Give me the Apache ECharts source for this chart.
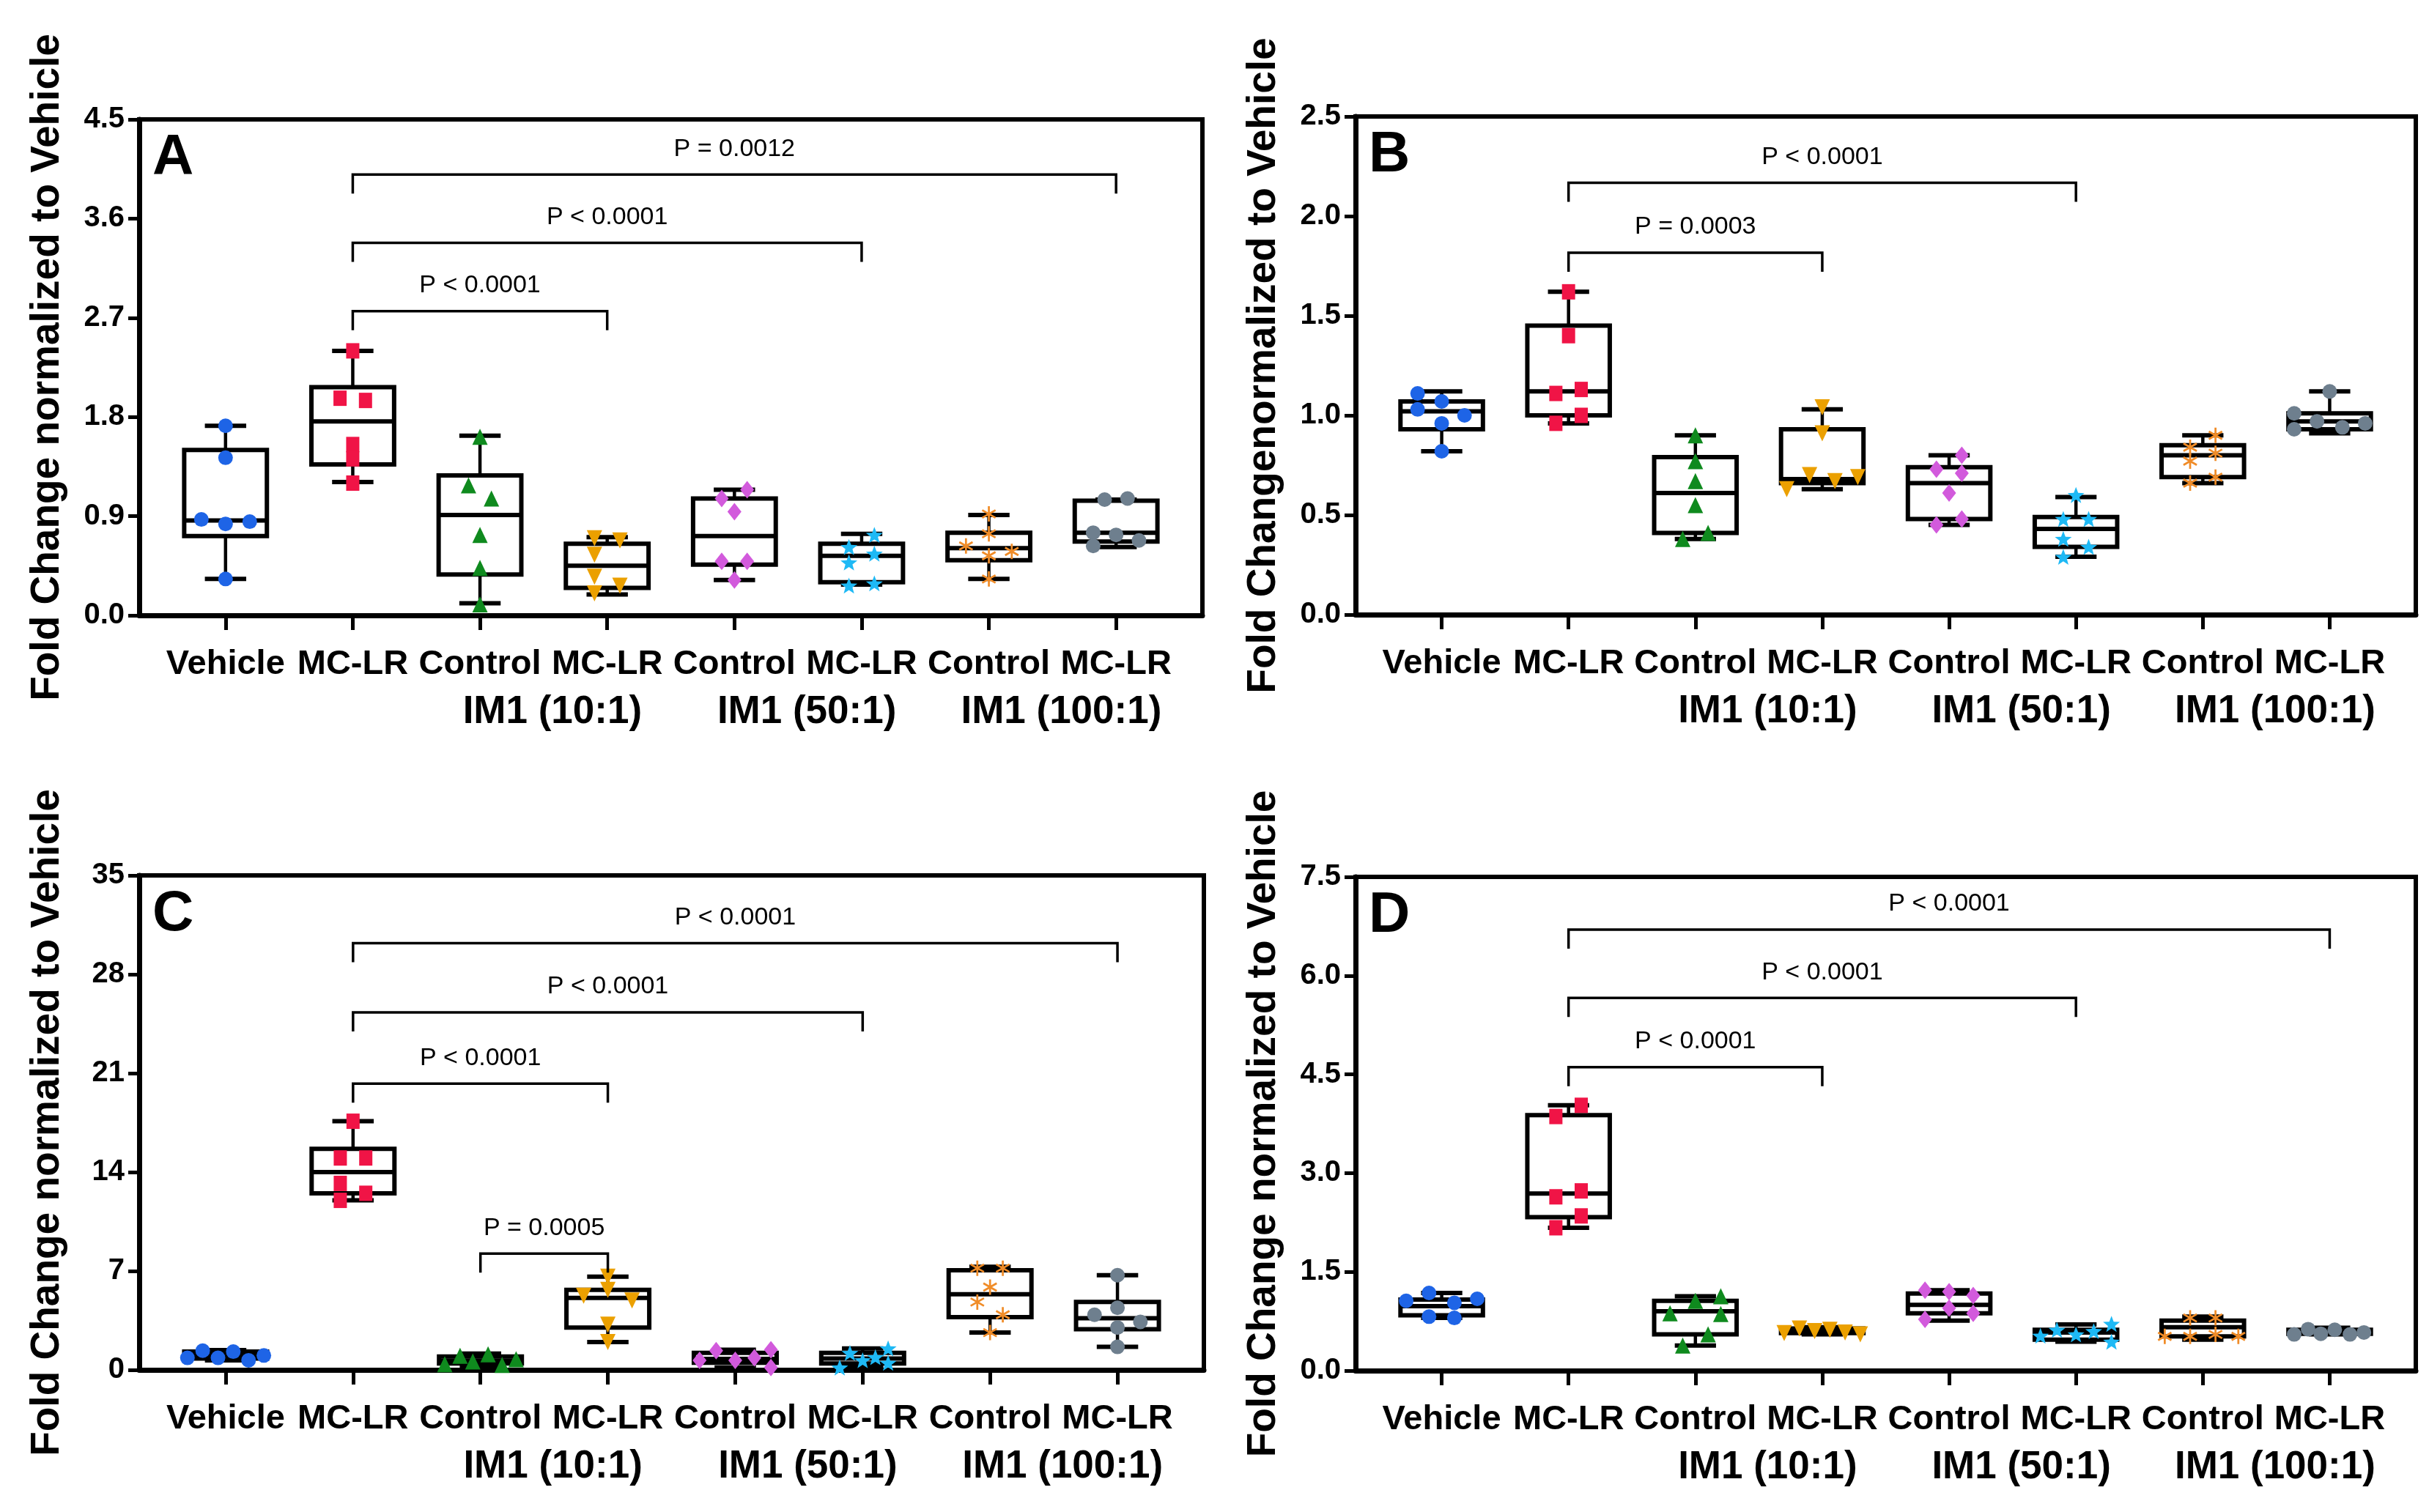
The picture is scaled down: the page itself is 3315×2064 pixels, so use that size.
<!DOCTYPE html>
<html>
<head>
<meta charset="utf-8">
<title>Fold change box plots</title>
<script src="https://cdn.jsdelivr.net/npm/echarts@6/dist/echarts.min.js"></script>
<style>
  html, body { margin: 0; padding: 0; background: #fff; }
  #main { width: 3315px; height: 2064px; }
</style>
</head>
<body>
<div id="main"></div>
<script>
var categories = ['Vehicle', 'MC-LR', 'Control', 'MC-LR', 'Control', 'MC-LR', 'Control', 'MC-LR'];
var groupLabels = ['', 'IM1 (10:1)', 'IM1 (50:1)', 'IM1 (100:1)'];

// box stats per group: [min, Q1, median, Q3, max]
var boxA = [[0.33, 0.72, 0.86, 1.50, 1.72], [1.21, 1.37, 1.76, 2.07, 2.40], [0.11, 0.37, 0.91, 1.27, 1.63], [0.19, 0.25, 0.45, 0.65, 0.71],
            [0.32, 0.46, 0.72, 1.06, 1.14], [0.28, 0.30, 0.54, 0.65, 0.74], [0.33, 0.50, 0.61, 0.75, 0.91], [0.62, 0.67, 0.75, 1.04, 1.05]];
var boxB = [[0.82, 0.93, 1.02, 1.07, 1.12], [0.96, 1.00, 1.12, 1.45, 1.62], [0.38, 0.41, 0.61, 0.79, 0.90], [0.63, 0.66, 0.68, 0.93, 1.03],
            [0.45, 0.48, 0.66, 0.74, 0.80], [0.29, 0.34, 0.43, 0.49, 0.59], [0.66, 0.69, 0.80, 0.85, 0.90], [0.91, 0.93, 0.97, 1.01, 1.12]];
var boxC = [[0.68, 0.80, 1.00, 1.30, 1.40], [12.0, 12.5, 14.0, 15.65, 17.6], [0.30, 0.45, 0.65, 0.95, 1.15], [1.97, 3.0, 5.1, 5.66, 6.6],
            [0.17, 0.50, 0.78, 1.20, 1.42], [0.17, 0.45, 0.80, 1.20, 1.52], [2.64, 3.73, 5.35, 7.05, 7.3], [1.63, 2.88, 3.66, 4.81, 6.7]];
var boxD = [[0.80, 0.84, 0.98, 1.08, 1.18], [2.17, 2.33, 2.69, 3.88, 4.03], [0.38, 0.55, 0.90, 1.06, 1.13], [0.55, 0.57, 0.60, 0.64, 0.66],
            [0.76, 0.87, 1.00, 1.17, 1.22], [0.44, 0.47, 0.58, 0.62, 0.70], [0.47, 0.52, 0.66, 0.76, 0.82], [0.55, 0.56, 0.60, 0.62, 0.65]];

// individual replicates (6 per group)
var ptsA = [[1.72, 1.43, 0.87, 0.83, 0.85, 0.33], [2.40, 1.97, 1.95, 1.55, 1.42, 1.20], [1.62, 1.18, 1.06, 0.73, 0.43, 0.10], [0.70, 0.68, 0.55, 0.35, 0.27, 0.20],
            [1.14, 1.06, 0.94, 0.49, 0.49, 0.32], [0.73, 0.62, 0.56, 0.48, 0.29, 0.27], [0.92, 0.74, 0.63, 0.58, 0.54, 0.33], [1.05, 1.06, 0.75, 0.73, 0.68, 0.63]];
var ptsB = [[1.11, 1.07, 1.03, 1.00, 0.96, 0.82], [1.62, 1.40, 1.11, 1.13, 1.00, 0.96], [0.90, 0.77, 0.67, 0.55, 0.41, 0.38], [1.04, 0.91, 0.70, 0.69, 0.67, 0.63],
            [0.80, 0.73, 0.71, 0.61, 0.48, 0.45], [0.60, 0.48, 0.48, 0.38, 0.34, 0.29], [0.90, 0.84, 0.81, 0.77, 0.69, 0.66], [1.12, 1.01, 0.97, 0.93, 0.94, 0.96]];
var ptsC = [[0.85, 1.36, 0.85, 1.29, 0.68, 1.02], [17.6, 15.0, 15.0, 13.2, 12.5, 12.0], [0.40, 1.00, 0.60, 1.10, 0.35, 0.75], [6.6, 5.66, 5.25, 4.91, 3.2, 1.97],
            [0.68, 1.36, 0.68, 0.85, 1.42, 0.17], [0.17, 0.68, 1.52, 0.50, 1.20, 0.90], [7.2, 7.2, 5.86, 4.8, 3.9, 2.64], [6.7, 4.4, 3.9, 3.4, 3.0, 1.63]];
var ptsD = [[1.06, 1.18, 1.03, 1.09, 0.82, 0.80], [4.03, 3.86, 2.64, 2.73, 2.35, 2.17], [1.13, 1.06, 0.87, 0.86, 0.55, 0.38], [0.57, 0.64, 0.60, 0.62, 0.58, 0.55],
            [1.22, 1.20, 1.14, 0.95, 0.87, 0.78], [0.53, 0.62, 0.55, 0.60, 0.71, 0.44], [0.80, 0.80, 0.52, 0.52, 0.55, 0.52], [0.55, 0.63, 0.56, 0.62, 0.55, 0.58]];

// horizontal spread of the replicates, in category units
var dxA = [[0, 0, -0.19, 0, 0.19, 0], [0, -0.1, 0.1, 0, 0, 0], [0, -0.09, 0.09, 0, 0, 0], [-0.1, 0.1, -0.1, -0.1, 0.1, -0.1],
           [0.1, -0.1, 0, -0.1, 0.1, 0], [0.1, -0.1, 0.1, -0.1, 0.1, -0.1], [0, 0, -0.18, 0.18, 0, 0], [-0.09, 0.09, -0.18, 0, 0.18, -0.18]];
var dxB = [[-0.19, 0, -0.19, 0.18, 0, 0], [0, 0, -0.1, 0.1, 0.1, -0.1], [0, 0, 0, 0, 0.1, -0.1], [0, 0, -0.1, 0.28, 0.1, -0.28],
           [0.1, -0.1, 0.1, 0, 0.1, -0.1], [0, -0.1, 0.1, -0.1, 0.1, -0.1], [0.1, -0.1, 0.1, -0.1, 0.1, -0.1], [0, -0.28, -0.1, -0.28, 0.1, 0.28]];
var dxC = [[-0.3, -0.18, -0.06, 0.06, 0.18, 0.3], [0, -0.1, 0.1, -0.1, 0.1, -0.1], [-0.28, -0.16, -0.06, 0.06, 0.17, 0.28], [0, 0, -0.19, 0.19, 0, 0],
           [-0.28, -0.15, 0, 0.15, 0.28, 0.28], [-0.18, 0, 0.2, 0.2, -0.1, 0.1], [-0.1, 0.1, 0, -0.1, 0.1, 0], [0, 0, -0.18, 0.18, 0, 0]];
var dxD = [[-0.28, -0.1, 0.1, 0.28, -0.1, 0.1], [0.1, -0.1, -0.1, 0.1, 0.1, -0.1], [0.2, 0, -0.2, 0.2, 0.1, -0.1], [-0.3, -0.18, -0.06, 0.06, 0.18, 0.3],
           [-0.19, 0, 0.19, 0, 0.19, -0.19], [-0.28, -0.15, 0, 0.14, 0.28, 0.28], [-0.1, 0.1, -0.3, -0.1, 0.1, 0.28], [-0.28, -0.17, -0.07, 0.04, 0.16, 0.27]];

// significance brackets: [from group, to group, height, label]
var brA = [[1, 3, 2.76, 'P < 0.0001'], [1, 5, 3.38, 'P < 0.0001'], [1, 7, 4.0, 'P = 0.0012']];
var brB = [[1, 3, 1.816, 'P = 0.0003'], [1, 5, 2.167, 'P < 0.0001']];
var brC = [[1, 3, 20.26, 'P < 0.0001'], [1, 5, 25.3, 'P < 0.0001'], [1, 7, 30.2, 'P < 0.0001'], [2, 3, 8.23, 'P = 0.0005']];
var brD = [[1, 3, 4.61, 'P < 0.0001'], [1, 5, 5.66, 'P < 0.0001'], [1, 7, 6.70, 'P < 0.0001']];

var yTitle = 'Fold Change normalized to Vehicle';
var yTitleB = 'Fold Changenormalized to Vehicle';

var panels = [
  {id: 'A', box: boxA, pts: ptsA, dx: dxA, br: brA, max: 4.5, step: 0.9, dec: 1, yName: yTitle},
  {id: 'B', box: boxB, pts: ptsB, dx: dxB, br: brB, max: 2.5, step: 0.5, dec: 1, yName: yTitleB},
  {id: 'C', box: boxC, pts: ptsC, dx: dxC, br: brC, max: 35, step: 7, dec: 0, yName: yTitle},
  {id: 'D', box: boxD, pts: ptsD, dx: dxD, br: brD, max: 7.5, step: 1.5, dec: 1, yName: yTitle}
];

var layout = [
  {left: 190, top: 163, width: 1451, height: 677},
  {left: 1850, top: 159, width: 1447, height: 680},
  {left: 190, top: 1195, width: 1453, height: 675},
  {left: 1850, top: 1197, width: 1447, height: 674}
];

var FONT = "'Liberation Sans', Arial, sans-serif";

function starPath() {
  var pts = [];
  for (var k = 0; k < 10; k++) {
    var r = k % 2 ? 0.42 : 1;
    var a = Math.PI / 5 * k - Math.PI / 2;
    pts.push((r * Math.cos(a)).toFixed(3) + ',' + (r * Math.sin(a)).toFixed(3));
  }
  return 'path://M' + pts.join('L') + 'Z';
}
function asteriskPath() {
  var s = '';
  [90, 30, 150].forEach(function (deg) {
    var a = deg * Math.PI / 180, c = Math.cos(a), sn = Math.sin(a), w = 0.13;
    var p = [[-1, -w], [1, -w], [1, w], [-1, w]].map(function (q) {
      return (q[0] * c - q[1] * sn).toFixed(3) + ',' + (q[0] * sn + q[1] * c).toFixed(3);
    });
    s += 'M' + p.join('L') + 'Z';
  });
  return 'path://' + s;
}

var markers = [
  {symbol: 'circle', size: 20, color: '#1E64E6'},
  {symbol: 'rect', size: [18, 21], color: '#F01446'},
  {symbol: 'triangle', size: [21, 22], color: '#0F8A1E'},
  {symbol: 'triangle', size: [21, 22], rotate: 180, color: '#EBA000'},
  {symbol: 'diamond', size: [19, 24], color: '#D25ADC'},
  {symbol: starPath(), size: 23, color: '#1EB9F5'},
  {symbol: asteriskPath(), size: 21, color: '#F08C28'},
  {symbol: 'circle', size: 20, color: '#6E7F8E'}
];

function renderBox(params, api) {
  var x = api.value(0);
  var lo = api.coord([x, api.value(1)]);
  var q1 = api.coord([x, api.value(2)]);
  var md = api.coord([x, api.value(3)]);
  var q3 = api.coord([x, api.value(4)]);
  var hi = api.coord([x, api.value(5)]);
  var bw = api.size([0.65, 0])[0];
  var cw = bw * 0.5;
  var cx = lo[0];
  var thick = {stroke: '#000', lineWidth: 6};
  var thin = {stroke: '#000', lineWidth: 4.5};
  return {
    type: 'group',
    children: [
      {type: 'line', shape: {x1: cx, y1: hi[1], x2: cx, y2: q3[1]}, style: thin},
      {type: 'line', shape: {x1: cx, y1: q1[1], x2: cx, y2: lo[1]}, style: thin},
      {type: 'line', shape: {x1: cx - cw / 2, y1: hi[1], x2: cx + cw / 2, y2: hi[1]}, style: thick},
      {type: 'line', shape: {x1: cx - cw / 2, y1: lo[1], x2: cx + cw / 2, y2: lo[1]}, style: thick},
      {type: 'rect', shape: {x: cx - bw / 2, y: q3[1], width: bw, height: q1[1] - q3[1]},
        style: {fill: 'rgba(255,255,255,0)', stroke: '#000', lineWidth: 6}},
      {type: 'line', shape: {x1: cx - bw / 2, y1: md[1], x2: cx + bw / 2, y2: md[1]}, style: thick}
    ]
  };
}

function bracketRenderer(list) {
  return function (params, api) {
    var a = api.coord([api.value(0), api.value(2)]);
    var b = api.coord([api.value(1), api.value(2)]);
    var leg = 26;
    return {
      type: 'group',
      children: [
        {type: 'polyline', shape: {points: [[a[0], a[1] + leg], a, b, [b[0], b[1] + leg]]},
          style: {stroke: '#000', lineWidth: 3.5, fill: null}},
        {type: 'text', x: (a[0] + b[0]) / 2, y: a[1] - 18,
          style: {text: list[params.dataIndex][3], fontSize: 34, fontFamily: FONT, fill: '#000',
            align: 'center', verticalAlign: 'bottom'}}
      ]
    };
  };
}

var option = {
  backgroundColor: '#fff',
  animation: false,
  title: [], grid: [], xAxis: [], yAxis: [], series: []
};

panels.forEach(function (p, pi) {
  var L = layout[pi];
  var gFrame = option.grid.length;
  option.grid.push({left: L.left, top: L.top, width: L.width, height: L.height,
    show: true, borderColor: '#000', borderWidth: 6, backgroundColor: 'rgba(0,0,0,0)'});
  option.grid.push({left: L.left + 31, top: L.top, width: L.width - 62, height: L.height});
  var gInner = gFrame + 1;

  option.title.push({text: p.id, left: L.left + 18, top: L.top + 14, padding: 0,
    textStyle: {fontSize: 78, fontWeight: 'bold', fontFamily: FONT, color: '#000'}});

  // frame axes
  option.xAxis.push({type: 'value', gridIndex: gFrame, position: 'bottom', min: 0, max: 1,
    axisLine: {show: true, onZero: false, lineStyle: {color: '#000', width: 7}},
    axisTick: {show: false}, axisLabel: {show: false}, splitLine: {show: false}});
  option.yAxis.push({type: 'value', gridIndex: gFrame, position: 'left', min: 0, max: p.max, interval: p.step,
    axisLine: {show: true, lineStyle: {color: '#000', width: 7}},
    axisTick: {show: true, length: 15, lineStyle: {color: '#000', width: 5}},
    axisLabel: {margin: 20, color: '#000', fontFamily: FONT, fontWeight: 'bold', fontSize: 40,
      formatter: function (v) { return v.toFixed(p.dec); }},
    splitLine: {show: false},
    name: p.yName, nameLocation: 'middle', nameGap: 98,
    nameTextStyle: {fontSize: 55, fontWeight: 'bold', fontFamily: FONT, color: '#000'}});

  // category labels and ticks
  option.xAxis.push({type: 'category', gridIndex: gInner, position: 'bottom', data: categories,
    axisLine: {show: false},
    axisTick: {show: true, alignWithLabel: true, length: 20, lineStyle: {color: '#000', width: 5}},
    axisLabel: {interval: 0, margin: 44, color: '#000', fontFamily: FONT, fontWeight: 'bold', fontSize: 47},
    splitLine: {show: false}});
  option.xAxis.push({type: 'category', gridIndex: gInner, position: 'bottom', data: groupLabels,
    axisLine: {show: false}, axisTick: {show: false},
    axisLabel: {interval: 0, margin: 106, color: '#000', fontFamily: FONT, fontWeight: 'bold', fontSize: 53,
      padding: [0, 0, 0, 24]},
    splitLine: {show: false}});
  var xVal = option.xAxis.length;
  option.xAxis.push({type: 'value', gridIndex: gInner, position: 'bottom', show: false, min: -0.5, max: 7.5});
  var yVal = option.yAxis.length;
  option.yAxis.push({type: 'value', gridIndex: gInner, position: 'left', show: false, min: 0, max: p.max});

  option.series.push({
    type: 'custom', name: p.id + ' boxes', xAxisIndex: xVal, yAxisIndex: yVal, z: 2, silent: true,
    encode: {x: 0, y: [1, 2, 3, 4, 5]},
    data: p.box.map(function (b, i) { return [i].concat(b); }),
    renderItem: renderBox
  });

  p.pts.forEach(function (vals, i) {
    var m = markers[i];
    option.series.push({
      type: 'scatter', xAxisIndex: xVal, yAxisIndex: yVal, z: 3, silent: true,
      symbol: m.symbol, symbolSize: m.size, symbolRotate: m.rotate || 0, symbolKeepAspect: true,
      itemStyle: {color: m.color, opacity: 1},
      data: vals.map(function (v, k) { return [i + p.dx[i][k], v]; })
    });
  });

  option.series.push({
    type: 'custom', name: p.id + ' brackets', xAxisIndex: xVal, yAxisIndex: yVal, z: 4, silent: true,
    clip: false,
    encode: {x: [0, 1], y: 2},
    data: p.br.map(function (b) { return [b[0], b[1], b[2]]; }),
    renderItem: bracketRenderer(p.br)
  });
});

var chart = echarts.init(document.getElementById('main'));
chart.setOption(option);
</script>
</body>
</html>
